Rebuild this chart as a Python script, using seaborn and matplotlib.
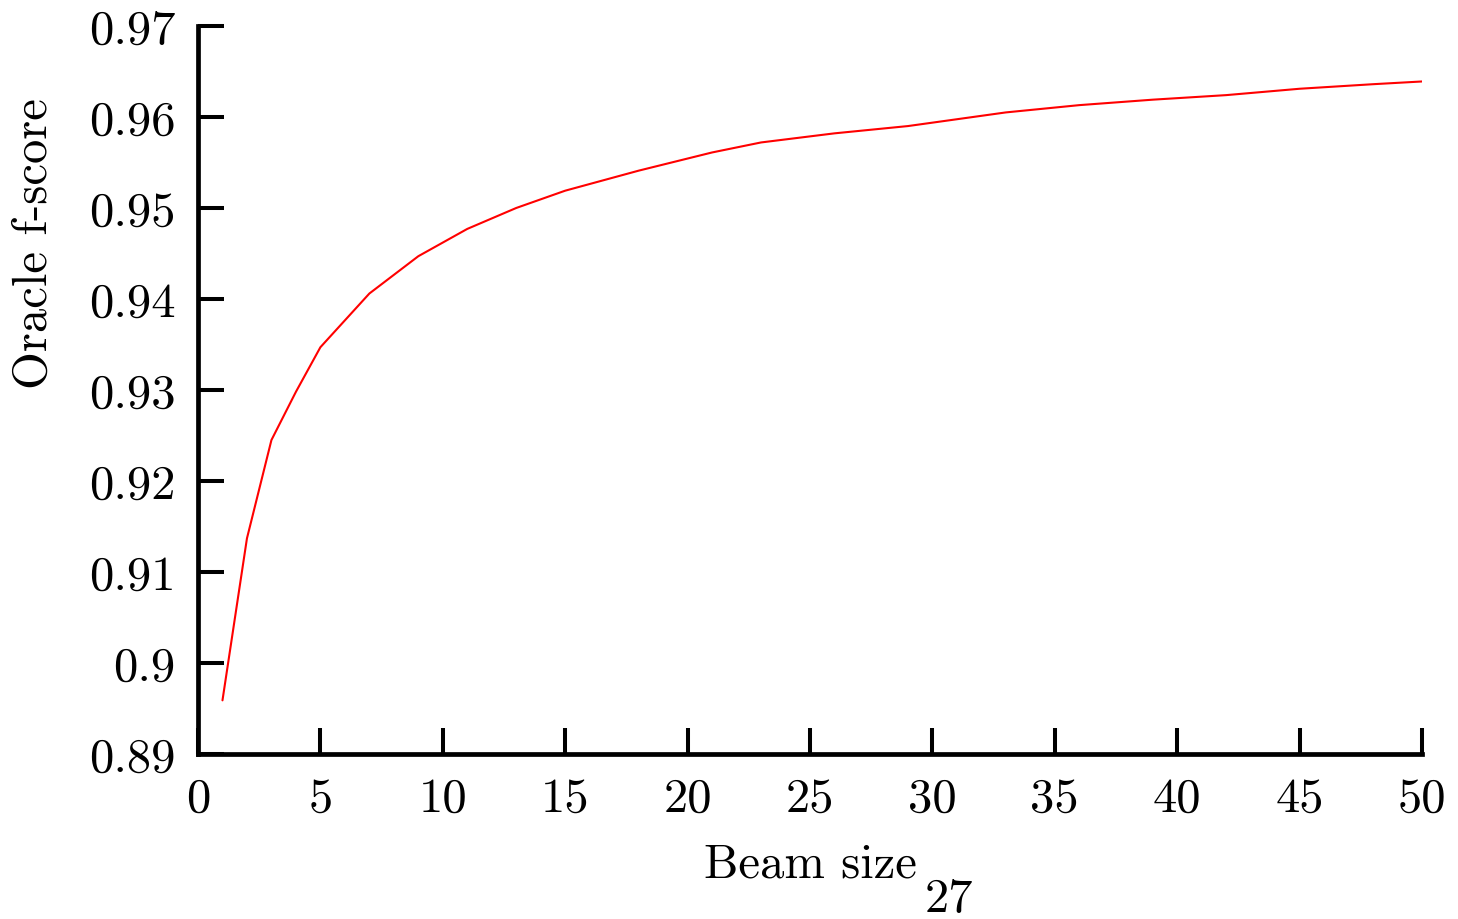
# oracle f-score vs beam size
import numpy as np
import pandas as pd
import matplotlib
matplotlib.use('Agg')
import matplotlib.pyplot as plt
import seaborn as sns

# values
beam_size = [1, 2, 3, 4, 5, 7, 9, 11, 13, 15, 18, 21, 23, 26, 29, 33, 36, 39, 42, 45, 48, 50]
f_score = [0.8959, 0.9137, 0.9245, 0.9298, 0.9347, 0.9406, 0.9447, 0.9477, 0.9500, 0.9519,
           0.9541, 0.9561, 0.9572, 0.9582, 0.9590, 0.9605, 0.9613, 0.9619, 0.9624, 0.9631,
           0.9636, 0.9639]
x_ticks = [0, 5, 10, 15, 20, 25, 30, 35, 40, 45, 50]
y_ticks = [0.89, 0.90, 0.91, 0.92, 0.93, 0.94, 0.95, 0.96, 0.97]
y_labels = ['0.89', '0.9', '0.91', '0.92', '0.93', '0.94', '0.95', '0.96', '0.97']

df = pd.DataFrame({'beam': beam_size, 'fscore': f_score})

sns.set_style('white')
plt.rcParams['font.family'] = ['cmr10', 'DejaVu Serif']
plt.rcParams['axes.formatter.use_mathtext'] = True
plt.rcParams['text.color'] = 'black'
plt.rcParams['axes.labelcolor'] = 'black'

fig = plt.figure(figsize=(14.58, 9.2), dpi=100)
ax = fig.add_axes([0.1358, 0.1793, 0.8395, 0.7914])

sns.lineplot(data=df, x='beam', y='fscore', color='red', linewidth=1.5, ax=ax)

ax.set_xlim(0, 50)
ax.set_ylim(0.89, 0.97)
ax.set_xticks(x_ticks)
ax.set_xticklabels([str(t) for t in x_ticks])
ax.set_yticks(y_ticks)
ax.set_yticklabels(y_labels)

# only left and bottom axis, ticks pointing inwards
sns.despine(ax=ax)
for s in ['left', 'bottom']:
    ax.spines[s].set_linewidth(3.4)
    ax.spines[s].set_color('black')
ax.tick_params(bottom=True, left=True, direction='in', length=18.5, width=2.9,
               labelsize=35, colors='black')
ax.tick_params(axis='x', pad=16)
ax.tick_params(axis='y', pad=16)

ax.set_xlabel('Beam size', fontsize=35, labelpad=16)
ax.set_ylabel('Oracle f-score', fontsize=35)
ax.yaxis.set_label_coords(-0.1152, 0.702)

# page number under the plot
fig.text(0.651, 0.009, '27', fontsize=35, ha='center', va='baseline')

plt.savefig('out.png', dpi=100)
plt.close()
